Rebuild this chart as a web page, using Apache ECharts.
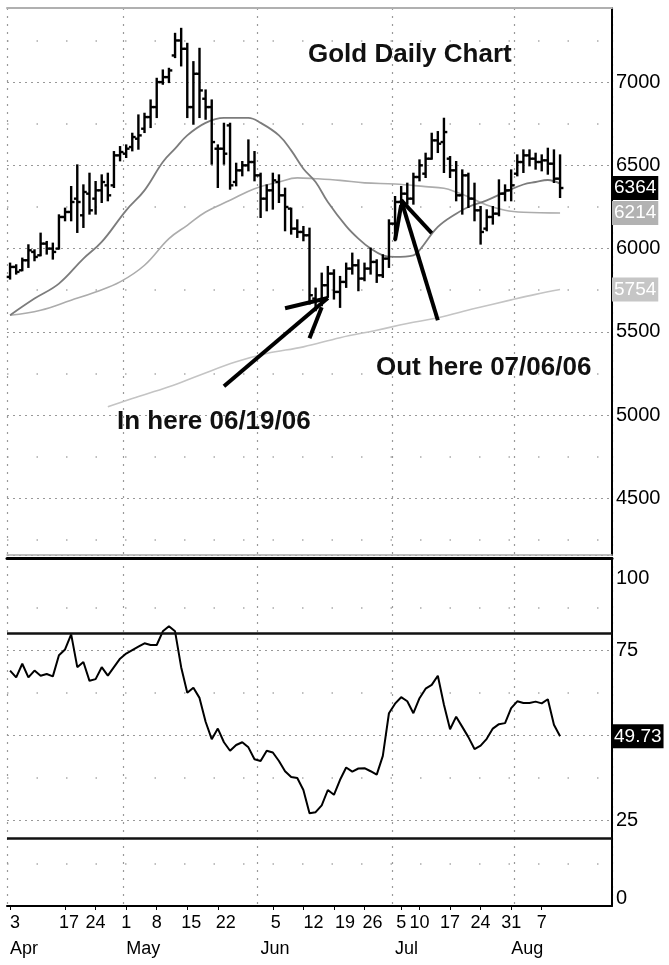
<!DOCTYPE html>
<html>
<head>
<meta charset="utf-8">
<title>Gold Daily Chart</title>
<script src="https://cdn.jsdelivr.net/npm/echarts@6.0.0/dist/echarts.min.js"></script>
<style>
  html, body { margin: 0; padding: 0; background: #fff; }
  #main { width: 669px; height: 965px; }
</style>
</head>
<body>
<div id="main"></div>
<script>
// trading days, Apr 3 - Aug 10 2006
var dates = ['4/3','4/4','4/5','4/6','4/7','4/10','4/11','4/12','4/13','4/17','4/18','4/19','4/20','4/21','4/24','4/25','4/26','4/27','4/28',
  '5/1','5/2','5/3','5/4','5/5','5/8','5/9','5/10','5/11','5/12','5/15','5/16','5/17','5/18','5/19','5/22','5/23','5/24','5/25','5/26','5/30','5/31',
  '6/1','6/2','6/5','6/6','6/7','6/8','6/9','6/12','6/13','6/14','6/15','6/16','6/19','6/20','6/21','6/22','6/23','6/26','6/27','6/28','6/29','6/30',
  '7/3','7/5','7/6','7/7','7/10','7/11','7/12','7/13','7/14','7/17','7/18','7/19','7/20','7/21','7/24','7/25','7/26','7/27','7/28','7/31',
  '8/1','8/2','8/3','8/4','8/7','8/8','8/9','8/10']

var opens = [5830,5890,5870,5930,5980,5960,6030,6000,6000,6190, 6220,6300,6200,6330,6300,6350,6380,6380,6560,6570,
  6610,6660,6720,6790,6850,7000,7030,7160,7250,7200, 6850,7050,6900,6850,6600,6600,6740,6400,6470,6500,
  6520,6440,6300,6350,6400,6320,6240,6120,6100,6080, 5700,5690,5780,5850,5740,5800,5880,5900,5820,5880,
  5920,5840,5940,6150,6280,6330,6300,6430,6450,6540, 6650,6640,6540,6470,6320,6440,6300,6230,6120,6190,
  6210,6330,6350,6450,6520,6560,6540,6520,6530,6510, 6420]
var highs = [5910,5900,5940,6020,5990,6090,6040,6030,6200,6240, 6370,6500,6380,6450,6400,6440,6450,6580,6610,6620,
  6690,6800,6810,6890,7020,7070,7080,7290,7320,7230, 7120,7200,6950,6890,6620,6750,6750,6510,6520,6650,
  6580,6450,6380,6450,6440,6360,6240,6170,6130,6120, 5760,5850,5890,5870,5830,5910,5970,5930,5910,6000,
  5930,5960,6170,6310,6370,6390,6450,6530,6570,6690, 6700,6780,6550,6520,6470,6450,6390,6250,6230,6250,
  6410,6380,6470,6560,6590,6590,6570,6560,6600,6590, 6560]
var lows = [5820,5850,5870,5890,5930,5960,5970,5940,6000,6170, 6170,6100,6130,6210,6210,6280,6290,6370,6530,6550,
  6590,6600,6700,6730,6790,6990,7000,7150,7100,6790, 6750,6790,6780,6510,6370,6510,6360,6380,6440,6470,
  6410,6190,6230,6240,6280,6110,6090,6070,6050,5670, 5630,5660,5710,5700,5650,5770,5850,5750,5810,5850,
  5800,5830,5890,6050,6250,6270,6270,6410,6430,6540, 6580,6460,6430,6290,6210,6250,6170,6030,6110,6150,
  6200,6290,6290,6440,6460,6500,6480,6470,6450,6400, 6310]
var closes = [5890,5860,5930,5990,5950,6030,6000,5980,6190,6220, 6280,6280,6340,6230,6350,6400,6320,6560,6580,6600,
  6670,6680,6790,6850,7000,7030,7070,7250,7200,6850, 7050,6950,6850,6640,6600,6570,6380,6470,6500,6520,
  6440,6300,6350,6410,6320,6250,6120,6100,6080,5720, 5690,5780,5850,5740,5800,5880,5900,5820,5880,5920,
  5840,5940,6150,6280,6330,6300,6430,6500,6540,6650, 6630,6700,6470,6320,6440,6300,6230,6100,6190,6210,
  6330,6350,6380,6520,6560,6540,6520,6530,6510,6420, 6364]

var rsi = [69,67,71,67,69,67.5,68,67.3,73.5,75.2, 79.6,70,71.5,66,66.5,70,67.5,70,72.5,74,
  75,76,77,76.5,76.5,80.5,82,80.5,70,62.5, 64,61,54,48.9,52,48,45.5,47.2,48,46.5,
  43,42.5,45.5,45,42.5,39.5,37.8,37.5,34,27.2, 27.5,29.5,34,32.6,37,40.6,39.4,40.3,40.4,39.5,
  38.5,44,56.5,59.3,61.2,60,56.5,60.9,63.7,64.8, 67.5,59,51.8,55.5,52.5,49.5,46,47,49,52,
  53.3,53.6,58,60,59.5,59.5,59.9,59.4,60.6,53.1, 49.73]

// moving averages: [day index, value]
var maShort = [[0,5600],[4,5700],[8,5790],[12,5940],[15,6040],[19,6230],[22,6350],[25,6520],[27,6600],[29,6680],
  [32,6755],[35,6785],[39,6785],[41,6755],[44,6680],[46,6590],[48,6480],[50,6400],[52,6280],[55,6135],
  [57,6060],[59,6000],[61,5960],[63,5950],[66,5960],[67,5990],[70,6130],[73,6210],[75,6250],[78,6290],
  [81,6340],[84,6385],[86,6400],[88,6412],[90,6390]]
var maMid = [[0,5600],[5,5630],[10,5690],[14,5740],[18,5800],[22,5900],[26,6060],[29,6140],[32,6220],[36,6290],
  [40,6360],[44,6400],[47,6425],[50,6420],[54,6410],[58,6395],[63,6388],[68,6372],[71,6362],[73,6340],
  [75,6310],[78,6262],[81,6230],[84,6218],[90,6214]]
var maLong = [[16,5050],[20,5100],[26,5170],[31,5240],[37,5320],[42,5370],[48,5410],[54,5465],[60,5510],
  [65,5550],[70,5585],[76,5640],[82,5692],[86,5725],[90,5754]]

var dayLabels = ['4/3','4/17','4/24','5/1','5/8','5/15','5/22','6/5','6/12','6/19','6/26','7/5','7/10','7/17','7/24','7/31','8/7']
// how far right some day labels sit from their bar, px
var dayLabelShift = { '4/3': 5, '4/17': 4, '5/15': 4, '5/22': 8, '6/5': 3, '6/12': 10, '6/19': 11, '6/26': 8 }
var monthStarts = ['4/3','5/1','6/1','7/3','8/1']
var monthLabels = { '4/3': 'Apr', '5/1': 'May', '6/1': 'Jun', '7/3': 'Jul', '7/31': 'Aug' }

// hand drawn arrows, in [day index, price]
var arrowSegments = [
  [[34.75, 5174], [51.6, 5703]],
  [[45.1, 5642], [51.6, 5703]],
  [[48.8, 5462], [50.8, 5648]],
  [[70.0, 5570], [64.4, 6291]],
  [[69.3, 6093], [64.4, 6291]],
  [[63.4, 6051], [64.3, 6261]]
]

var cats = dates.slice()
for (var p = 0; p < 8; p++) cats.push('pad' + p)

var ohlc = dates.map(function (d, i) { return [i, opens[i], closes[i], lows[i], highs[i]] })
var lastClose = closes[closes.length - 1]
var lastRsi = rsi[rsi.length - 1]

function isMonthStart (i, v) { return monthStarts.indexOf(v) >= 0 }
function isDayLabel (i, v) { return dayLabels.indexOf(v) >= 0 }
function isMonthLabel (i, v) { return monthLabels[v] !== undefined }

var dayRich = {}
Object.keys(dayLabelShift).forEach(function (k) {
  dayRich['s' + dayLabelShift[k]] = { fontSize: 18, color: '#000', padding: [0, 0, 0, dayLabelShift[k] * 2] }
})

function renderOhlc (params, api) {
  var x = api.value(0)
  var o = api.coord([x, api.value(1)])
  var c = api.coord([x, api.value(2)])
  var l = api.coord([x, api.value(3)])
  var h = api.coord([x, api.value(4)])
  var w = api.size([1, 0])[0] * 0.55
  var style = { stroke: '#000', lineWidth: 2.4 }
  return {
    type: 'group',
    children: [
      { type: 'line', shape: { x1: h[0], y1: h[1] - 1, x2: l[0], y2: l[1] + 1 }, style: style },
      { type: 'line', shape: { x1: o[0] - w, y1: o[1], x2: o[0], y2: o[1] }, style: style },
      { type: 'line', shape: { x1: c[0], y1: c[1], x2: c[0] + w, y2: c[1] }, style: style }
    ]
  }
}

function valueBox (v, bg) {
  return {
    yAxis: v,
    lineStyle: { color: 'rgba(0,0,0,0)', width: 0, opacity: 1 },
    label: {
      show: true, position: 'end', distance: 0, formatter: String(v), opacity: 1,
      color: '#fff', backgroundColor: bg, fontSize: 19, padding: [3, 2, 2, 2],
      fontFamily: 'Liberation Sans, Arial, sans-serif'
    }
  }
}

var font = 'Liberation Sans, Arial, sans-serif'
var dotted = { color: '#999', width: 1.2, type: [2, 4] }
var vDotted = { color: '#999', width: 1.2, type: [2, 6] }
var sparse = { color: '#aaa', width: 1.5, type: [1.5, 28] }

var option = {
  backgroundColor: '#fff',
  animation: false,
  textStyle: { fontFamily: font },
  grid: [
    { left: 7, right: 57, top: 8, height: 547, containLabel: false, outerBoundsMode: 'none' },
    { left: 7, right: 57, top: 558, height: 348, containLabel: false, outerBoundsMode: 'none' }
  ],
  xAxis: [
    { gridIndex: 0, type: 'category', data: cats, boundaryGap: true,
      axisLine: { show: true, lineStyle: { color: '#aaa', width: 1.5 } },
      axisTick: { show: false }, axisLabel: { show: false },
      splitLine: { show: true, interval: isMonthStart, lineStyle: vDotted } },
    { gridIndex: 0, type: 'category', data: cats, position: 'top',
      axisLine: { show: true, lineStyle: { color: '#b0b0b0', width: 2 } },
      axisTick: { show: false }, axisLabel: { show: false }, splitLine: { show: false } },
    { gridIndex: 1, type: 'category', data: cats, boundaryGap: true,
      axisLine: { show: true, lineStyle: { color: '#000', width: 2 } },
      axisTick: { show: true, alignWithLabel: true, interval: isDayLabel, length: 4, lineStyle: { color: '#000' } },
      axisLabel: { interval: isDayLabel, hideOverlap: false, color: '#000', fontSize: 18, margin: 8,
        formatter: function (v) {
          var d = v.split('/')[1]
          return dayLabelShift[v] ? '{s' + dayLabelShift[v] + '|' + d + '}' : d
        },
        rich: dayRich },
      splitLine: { show: true, interval: isMonthStart, lineStyle: vDotted } },
    { gridIndex: 1, type: 'category', data: cats, position: 'top',
      axisLine: { show: true, lineStyle: { color: '#000', width: 3 } },
      axisTick: { show: false }, axisLabel: { show: false }, splitLine: { show: false } },
    { gridIndex: 1, type: 'category', data: cats, position: 'bottom', offset: 26,
      axisLine: { show: false }, axisTick: { show: false }, splitLine: { show: false },
      axisLabel: { interval: isMonthLabel, hideOverlap: false, align: 'left', color: '#000', fontSize: 18, margin: 8,
        formatter: function (v) { return monthLabels[v] } } }
  ],
  yAxis: [
    { gridIndex: 0, type: 'value', position: 'right', min: 4160, max: 7445, splitNumber: 5,
      axisLine: { show: true, lineStyle: { color: '#000', width: 2 } },
      axisTick: { show: false },
      axisLabel: { showMinLabel: false, showMaxLabel: false, color: '#000', fontSize: 20, margin: 4,
        formatter: function (v) { return String(v) } },
      splitLine: { show: true, lineStyle: dotted },
      minorTick: { show: false, splitNumber: 2 },
      minorSplitLine: { show: true, lineStyle: sparse } },
    { gridIndex: 1, type: 'value', position: 'right', min: 0, max: 102, interval: 25,
      axisLine: { show: true, lineStyle: { color: '#000', width: 2 } },
      axisTick: { show: false },
      axisLabel: { showMaxLabel: false, color: '#000', fontSize: 20, margin: 4,
        formatter: function (v) {
          if (v === 100) return '{top|100}'
          if (v === 0) return '{bot|0}'
          return String(v)
        },
        rich: {
          top: { fontSize: 20, color: '#000', padding: [28, 0, 0, 0] },
          bot: { fontSize: 20, color: '#000', padding: [0, 0, 16, 0] }
        } },
      splitLine: { show: true, lineStyle: { color: ['#999', '#999', '#999', '#999', 'rgba(0,0,0,0)', 'rgba(0,0,0,0)'], width: 1.2, type: [2, 4] } },
      minorTick: { show: false, splitNumber: 2 },
      minorSplitLine: { show: true, lineStyle: sparse } }
  ],
  graphic: [
    { type: 'text', left: 308, top: 42, z: 20,
      style: { text: 'Gold Daily Chart', font: 'bold 26px "Liberation Sans", Arial, sans-serif', fill: '#111' } },
    { type: 'text', left: 117, top: 409, z: 20,
      style: { text: 'In here 06/19/06', font: 'bold 26px "Liberation Sans", Arial, sans-serif', fill: '#111' } },
    { type: 'text', left: 376, top: 355, z: 20,
      style: { text: 'Out here 07/06/06', font: 'bold 26px "Liberation Sans", Arial, sans-serif', fill: '#111' } }
  ],
  series: [
    { name: 'MA long', type: 'line', xAxisIndex: 0, yAxisIndex: 0, data: maLong, smooth: 0.4,
      showSymbol: false, lineStyle: { color: '#c4c4c4', width: 1.6 }, z: 2,
      markLine: { silent: true, symbol: 'none', data: [valueBox(maLong[maLong.length - 1][1], '#c6c6c6')] } },
    { name: 'MA mid', type: 'line', xAxisIndex: 0, yAxisIndex: 0, data: maMid, smooth: 0.4,
      showSymbol: false, lineStyle: { color: '#acacac', width: 1.6 }, z: 2,
      markLine: { silent: true, symbol: 'none', data: [valueBox(maMid[maMid.length - 1][1], '#b2b2b2')] } },
    { name: 'MA short', type: 'line', xAxisIndex: 0, yAxisIndex: 0, data: maShort, smooth: 0.4,
      showSymbol: false, lineStyle: { color: '#7c7c7c', width: 1.8 }, z: 3 },
    { name: 'Gold', type: 'custom', xAxisIndex: 0, yAxisIndex: 0, data: ohlc, renderItem: renderOhlc,
      encode: { x: 0, y: [1, 2, 3, 4] }, z: 4,
      markLine: {
        silent: true, symbol: 'none',
        data: arrowSegments.map(function (s) {
          return [
            { coord: s[0], lineStyle: { color: '#000', width: 4, type: 'solid' }, label: { show: false } },
            { coord: s[1] }
          ]
        }).concat([valueBox(lastClose, '#000')])
      } },
    { name: 'RSI', type: 'line', xAxisIndex: 2, yAxisIndex: 1, data: rsi,
      showSymbol: false, lineStyle: { color: '#000', width: 2 }, z: 4,
      markLine: {
        silent: true, symbol: 'none',
        data: [
          { yAxis: 80, lineStyle: { color: '#111', width: 2.5, type: 'solid' }, label: { show: false } },
          { yAxis: 20, lineStyle: { color: '#111', width: 2.5, type: 'solid' }, label: { show: false } },
          valueBox(lastRsi, '#000')
        ]
      } }
  ]
}

var chart = echarts.init(document.getElementById('main'))
chart.setOption(option)
</script>
</body>
</html>
